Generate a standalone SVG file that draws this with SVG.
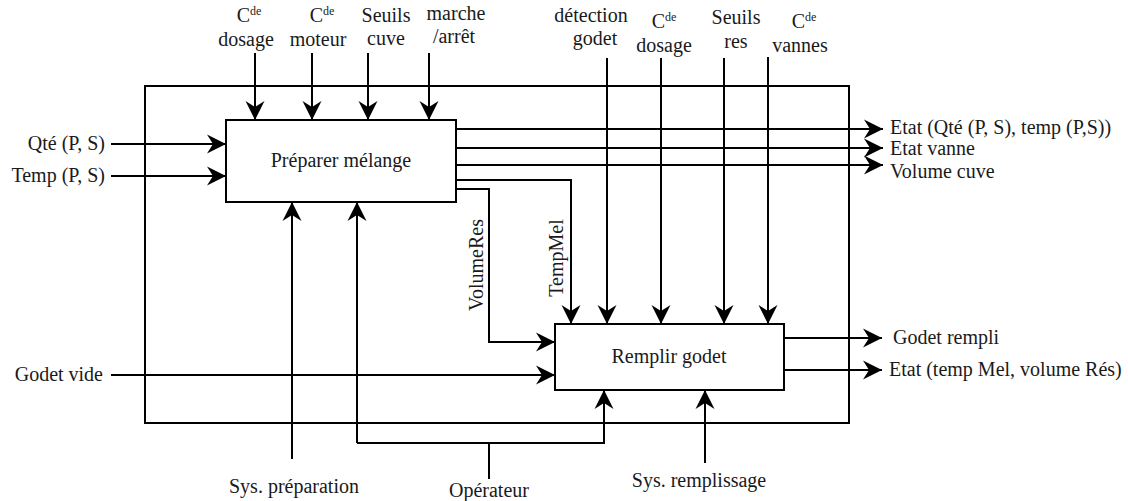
<svg xmlns="http://www.w3.org/2000/svg" width="1128" height="501" viewBox="0 0 1128 501">
<style>
text{font-family:"Liberation Serif","Times New Roman",serif;font-size:20px;fill:#1a1a1a}
.m{text-anchor:middle}
.e{text-anchor:end}
.sup{font-size:12px}
.ln{fill:none;stroke:#000;stroke-width:2}
.ar{fill:none;stroke:#000;stroke-width:2;marker-end:url(#ah)}
.box{fill:#fff;stroke:#000;stroke-width:2}
</style>
<defs>
<marker id="ah" viewBox="-20 -10 21 20" refX="0" refY="0" markerWidth="21" markerHeight="20" markerUnits="userSpaceOnUse" orient="auto">
<path d="M0,0 L-19,-9.5 L-13,0 L-19,9.5 Z" fill="#000"/>
</marker>
</defs>
<rect id="frame" x="145" y="86" width="704" height="337" fill="none" stroke="#000" stroke-width="2"/>
<g id="connectors">
<path class="ar" d="M255,53 V120"/>
<path class="ar" d="M312,53 V120"/>
<path class="ar" d="M368,53 V120"/>
<path class="ar" d="M429,53 V120"/>
<path class="ar" d="M607,58 V324"/>
<path class="ar" d="M661,58 V324"/>
<path class="ar" d="M724,58 V324"/>
<path class="ar" d="M768,57 V324"/>
<path class="ar" d="M111,144 H226"/>
<path class="ar" d="M111,176 H226"/>
<path class="ar" d="M111,375 H555"/>
<path class="ar" d="M456,129 H883"/>
<path class="ar" d="M456,148 H883"/>
<path class="ar" d="M456,165 H883"/>
<path class="ar" d="M456,180 H571 V324"/>
<path class="ar" d="M456,189 H489 V342 H555"/>
<path class="ar" d="M784,338 H882"/>
<path class="ar" d="M784,370 H882"/>
<path class="ar" d="M292,459 V202"/>
<path class="ar" d="M357,443 V202"/>
<path class="ar" d="M357,443 H604 V390"/>
<path class="ln" d="M489,443 V479"/>
<path class="ar" d="M705,463 V390"/>
</g>
<g id="preparer">
<rect class="box" x="226" y="120" width="230" height="82"/>
<text class="m" x="341" y="167">Préparer mélange</text>
</g>
<g id="remplir">
<rect class="box" x="555" y="324" width="229" height="66"/>
<text class="m" x="669" y="363">Remplir godet</text>
</g>
<g id="labels-top">
<text class="m" x="249" y="22">C<tspan class="sup" dy="-7">de</tspan></text>
<text class="m" x="246" y="46">dosage</text>
<text class="m" x="322" y="22">C<tspan class="sup" dy="-7">de</tspan></text>
<text class="m" x="318" y="46">moteur</text>
<text class="m" x="386" y="22">Seuils</text>
<text class="m" x="386" y="45">cuve</text>
<text class="m" x="456" y="20">marche</text>
<text class="m" x="454" y="43">/arrêt</text>
<text class="m" x="591" y="22">détection</text>
<text class="m" x="595" y="45">godet</text>
<text class="m" x="664" y="28">C<tspan class="sup" dy="-7">de</tspan></text>
<text class="m" x="664" y="52">dosage</text>
<text class="m" x="736" y="24">Seuils</text>
<text class="m" x="736" y="48">res</text>
<text class="m" x="804" y="28">C<tspan class="sup" dy="-7">de</tspan></text>
<text class="m" x="800" y="52">vannes</text>
</g>
<g id="labels-left">
<text class="e" x="105" y="150">Qté (P, S)</text>
<text class="e" x="105" y="182">Temp (P, S)</text>
<text class="e" x="103" y="381">Godet vide</text>
</g>
<g id="labels-right">
<text x="890" y="134">Etat (Qté (P, S), temp (P,S))</text>
<text x="890" y="155">Etat vanne</text>
<text x="890" y="178">Volume cuve</text>
<text x="893" y="344">Godet rempli</text>
<text x="889" y="376">Etat (temp Mel, volume Rés)</text>
</g>
<g id="labels-inner">
<text class="m" transform="translate(483,265) rotate(-90)">VolumeRes</text>
<text class="m" transform="translate(563,258) rotate(-90)">TempMel</text>
</g>
<g id="labels-bottom">
<text class="m" x="294" y="493">Sys. préparation</text>
<text class="m" x="489" y="497">Opérateur</text>
<text class="m" x="699" y="487">Sys. remplissage</text>
</g>
</svg>
